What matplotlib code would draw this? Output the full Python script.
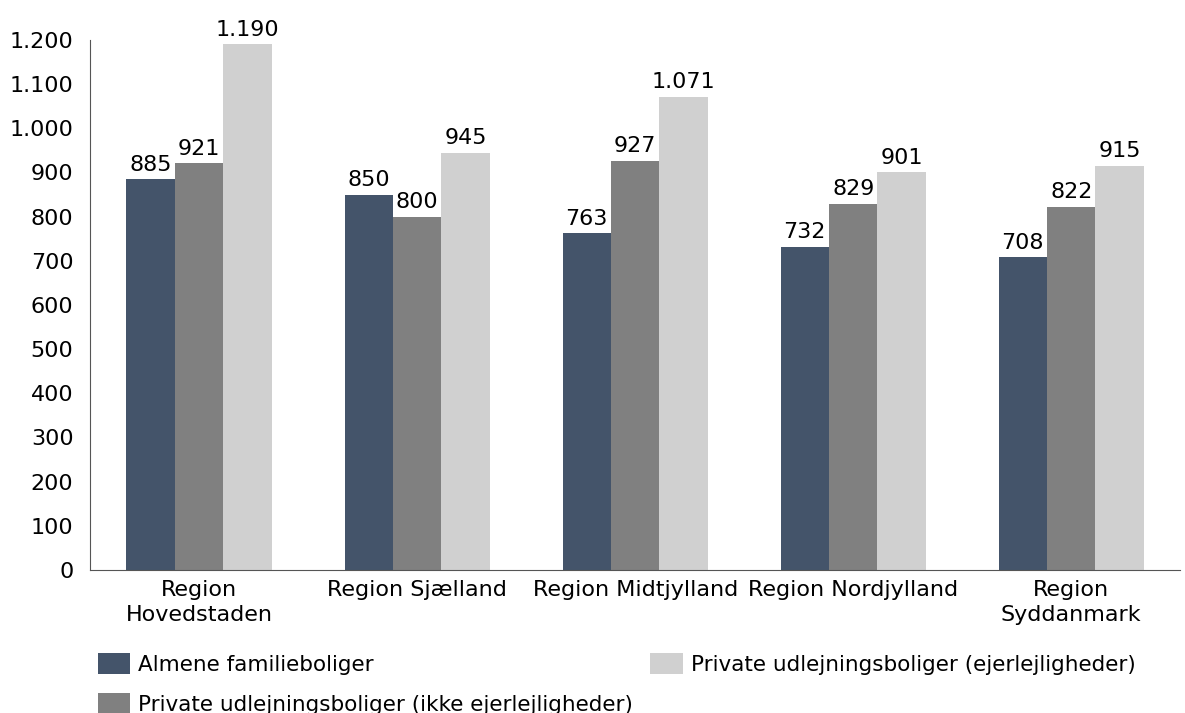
import numpy as np
import matplotlib.pyplot as plt

regions = ['Region\nHovedstaden', 'Region Sjælland', 'Region Midtjylland',
           'Region Nordjylland', 'Region\nSyddanmark']
series_names = ['Almene familieboliger',
                'Private udlejningsboliger (ikke ejerlejligheder)',
                'Private udlejningsboliger (ejerlejligheder)']
almene = [885, 850, 763, 732, 708]
private_ikke = [921, 800, 927, 829, 822]
private_ejer = [1190, 945, 1071, 901, 915]
colors = ['#44546a', '#808080', '#d0d0d0']


def fmt(v):
    return f'{v:,.0f}'.replace(',', '.')


plt.rcParams['font.family'] = ['DejaVu Sans']
fig = plt.figure(figsize=(11.85, 7.13), dpi=100)
ax = fig.add_axes([0.076, 0.2006, 0.92, 0.7434])

x = np.arange(len(regions))
w = 0.222
for i, (vals, name) in enumerate(zip([almene, private_ikke, private_ejer], series_names)):
    pos = x + (i - 1) * w
    bars = ax.bar(pos, vals, width=w, color=colors[i], label=name)
    for b, v in zip(bars, vals):
        ax.text(b.get_x() + b.get_width() / 2, v + 10, fmt(v),
                ha='center', va='bottom', fontsize=16)

ax.set_xlim(-0.5, len(regions) - 0.5)
ax.set_ylim(0, 1200)
ax.set_yticks(range(0, 1201, 100))
ax.set_yticklabels([fmt(t) for t in range(0, 1201, 100)], fontsize=16)
ax.set_xticks(x)
ax.set_xticklabels(regions, fontsize=16, linespacing=1.35)
ax.tick_params(axis='x', length=0, pad=7)
ax.tick_params(axis='y', length=0, pad=12)
for s in ['top', 'right']:
    ax.spines[s].set_visible(False)
for s in ['left', 'bottom']:
    ax.spines[s].set_color('#555555')

fig.legend(loc='upper left', bbox_to_anchor=(98 / 1185, 1 - 653 / 713),
           ncol=2, frameon=False, fontsize=15.5, handlelength=1.5, handleheight=1.1,
           handletextpad=0.37, columnspacing=0.8, labelspacing=0.85,
           borderaxespad=0, borderpad=0)

fig.savefig('out.png', dpi=100)
